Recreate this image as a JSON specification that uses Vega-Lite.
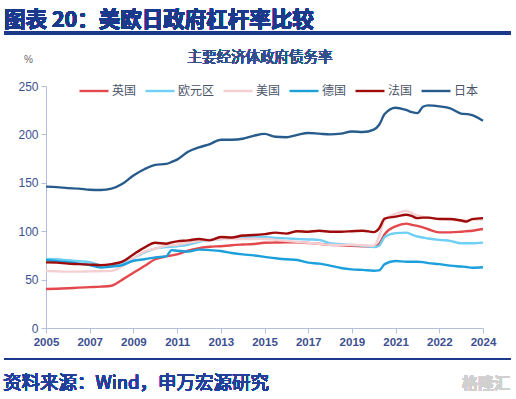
{
  "$schema": "https://vega.github.io/schema/vega-lite/v6.json",
  "autosize": "none",
  "width": 437,
  "height": 242,
  "padding": {"left": 46, "top": 86, "right": 33, "bottom": 71},
  "background": "white",
  "config": {
    "view": {"stroke": null},
    "font": "Noto Sans CJK SC"
  },
  "data": {
    "values": [
      {"t": 0, "英国": 40.3, "欧元区": 71.3, "美国": 58.9, "德国": 70.2, "法国": 67.8, "日本": 146},
      {"t": 2, "英国": 40.5, "欧元区": 71, "美国": 58.5, "德国": 69, "法国": 67.5, "日本": 145.5},
      {"t": 4, "英国": 41, "欧元区": 70, "美国": 58.2, "德国": 68, "法国": 66.5, "日本": 144.5},
      {"t": 6, "英国": 41.7, "欧元区": 69, "美国": 58.2, "德国": 66.5, "法国": 66, "日本": 144},
      {"t": 8, "英国": 42.2, "欧元区": 68, "美国": 58.5, "德国": 65, "法国": 65.5, "日本": 142.8},
      {"t": 10, "英国": 42.7, "欧元区": 65, "美国": 58.7, "德国": 62.5, "法国": 65, "日本": 142.5},
      {"t": 12, "英国": 43.7, "欧元区": 64.5, "美国": 59, "德国": 63.5, "法国": 66, "日本": 144},
      {"t": 14, "英国": 50, "欧元区": 66, "美国": 64, "德国": 65, "法国": 68.5, "日本": 149},
      {"t": 16, "英国": 57, "欧元区": 72, "美国": 72, "德国": 69.5, "法国": 76, "日本": 157.5},
      {"t": 18, "英国": 64, "欧元区": 78, "美国": 79, "德国": 71, "法国": 83, "日本": 164},
      {"t": 20, "英国": 71, "欧元区": 82, "美国": 82, "德国": 73, "法国": 88, "日本": 168.5},
      {"t": 22, "英国": 74, "欧元区": 83.5, "美国": 85, "德国": 74, "法国": 87, "日本": 169.5},
      {"t": 23, "英国": 75, "欧元区": 84, "美国": 85.5, "德国": 80.5, "法国": 88.5, "日本": 171.5},
      {"t": 24, "英国": 76, "欧元区": 84.5, "美国": 86, "德国": 79.8, "法国": 89.5, "日本": 174},
      {"t": 26, "英国": 80, "欧元区": 86, "美国": 88, "德国": 79, "法国": 90.5, "日本": 182},
      {"t": 28, "英国": 82.5, "欧元区": 89, "美国": 90, "德国": 81, "法国": 92, "日本": 186.5},
      {"t": 30, "英国": 84, "欧元区": 91, "美国": 91, "德国": 80.5, "法国": 90.5, "日本": 190},
      {"t": 32, "英国": 84.5, "欧元区": 92, "美国": 92, "德国": 79.5, "法国": 94, "日本": 194.5},
      {"t": 34, "英国": 85.5, "欧元区": 93, "美国": 92, "德国": 77.5, "法国": 93.5, "日本": 194.5},
      {"t": 36, "英国": 86.2, "欧元区": 94, "美国": 92, "德国": 76, "法国": 95.5, "日本": 195.5},
      {"t": 38, "英国": 86.8, "欧元区": 94.5, "美国": 92, "德国": 75, "法国": 96, "日本": 198.5},
      {"t": 40, "英国": 88, "欧元区": 94, "美国": 92, "德国": 73.5, "法国": 97, "日本": 200.5},
      {"t": 42, "英国": 88.3, "欧元区": 93, "美国": 91, "德国": 72, "法国": 98.5, "日本": 197.5},
      {"t": 44, "英国": 88.5, "欧元区": 92.6, "美国": 90, "德国": 71, "法国": 97.5, "日本": 197},
      {"t": 46, "英国": 88.5, "欧元区": 92, "美国": 89, "德国": 70.2, "法国": 100, "日本": 199.5},
      {"t": 48, "英国": 87.8, "欧元区": 91.5, "美国": 88, "德国": 67.5, "法国": 99.5, "日本": 201.5},
      {"t": 50, "英国": 87, "欧元区": 91, "美国": 87, "德国": 66.5, "法国": 100.5, "日本": 200.8},
      {"t": 52, "英国": 86, "欧元区": 87.5, "美国": 86, "德国": 64.5, "法国": 99.5, "日本": 200},
      {"t": 54, "英国": 85.5, "欧元区": 86.5, "美国": 85.7, "德国": 62, "法国": 99.5, "日本": 200.8},
      {"t": 56, "英国": 85, "欧元区": 85.7, "美国": 86, "德国": 60.6, "法国": 100, "日本": 203},
      {"t": 58, "英国": 84.5, "欧元区": 85, "美国": 85.5, "德国": 60, "法国": 100.5, "日本": 202.5},
      {"t": 60, "英国": 84, "欧元区": 83.5, "美国": 85, "德国": 59.2, "法国": 99, "日本": 205},
      {"t": 61, "英国": 87, "欧元区": 85, "美国": 95, "德国": 59.5, "法国": 103, "日本": 210},
      {"t": 62, "英国": 97, "欧元区": 94, "美国": 112, "德国": 66, "法国": 113, "日本": 221},
      {"t": 64, "英国": 105, "欧元区": 98, "美国": 118, "德国": 69.2, "法国": 115, "日本": 227.6},
      {"t": 66, "英国": 107.8, "欧元区": 98.5, "美国": 121, "德国": 68.5, "法国": 117, "日本": 225},
      {"t": 67, "英国": 106.5, "欧元区": 96.5, "美国": 118.5, "德国": 68.5, "法国": 115.5, "日本": 223},
      {"t": 68, "英国": 105.5, "欧元区": 94.5, "美国": 116, "德国": 68.5, "法国": 113.5, "日本": 222},
      {"t": 69, "英国": 104, "欧元区": 93.5, "美国": 115, "德国": 68, "法国": 114, "日本": 228.5},
      {"t": 70, "英国": 102, "欧元区": 92.5, "美国": 114, "德国": 67, "法国": 114, "日本": 230},
      {"t": 72, "英国": 98.8, "欧元区": 91, "美国": 113, "德国": 66, "法国": 112.6, "日本": 229},
      {"t": 74, "英国": 98.8, "欧元区": 90, "美国": 112, "德国": 64.4, "法国": 112.6, "日本": 227},
      {"t": 76, "英国": 99.5, "欧元区": 87.5, "美国": 111, "德国": 63.5, "法国": 111, "日本": 221.5},
      {"t": 77, "英国": 100, "欧元区": 87.5, "美国": 111, "德国": 63, "法国": 110, "日本": 221},
      {"t": 78, "英国": 100.5, "欧元区": 87.5, "美国": 112, "德国": 62.2, "法国": 112.5, "日本": 220},
      {"t": 80, "英国": 102.3, "欧元区": 88.2, "美国": 112, "德国": 62.7, "法国": 113.5, "日本": 214}
    ]
  },
  "layer": [
    {
      "transform": [
        {"fold": ["英国", "欧元区", "美国", "德国", "法国", "日本"], "as": ["s", "v"]}
      ],
      "mark": {"type": "line", "interpolate": "monotone"},
      "encoding": {
        "x": {
          "field": "t",
          "type": "quantitative",
          "scale": {"domain": [0, 80], "nice": false, "zero": false},
          "axis": {
            "title": null,
            "values": [0, 8, 16, 24, 32, 40, 48, 56, 64, 72, 80],
            "labelExpr": "['2005','2007','2009','2011','2013','2015','2017','2019','2021','2022','2024'][round(datum.value/8)]",
            "grid": false,
            "domainColor": "#b4bfe0",
            "tickColor": "#b4bfe0",
            "tickSize": 5,
            "labelColor": "#3d4f8f",
            "labelFont": "Liberation Sans",
            "labelFontSize": 11.5,
            "labelFontWeight": "bold",
            "labelPadding": 3,
            "labelFlush": false
          }
        },
        "y": {
          "field": "v",
          "type": "quantitative",
          "scale": {"domain": [0, 250], "nice": false},
          "axis": {
            "title": "%",
            "titleAngle": 0,
            "titleX": -18,
            "titleY": -24,
            "titleAlign": "center",
            "titleBaseline": "alphabetic",
            "titleFont": "Liberation Sans",
            "titleFontSize": 10,
            "titleFontWeight": "normal",
            "titleColor": "#666666",
            "values": [0, 50, 100, 150, 200, 250],
            "grid": false,
            "domainColor": "#b4bfe0",
            "tickColor": "#b4bfe0",
            "tickSize": 5,
            "labelColor": "#3d4f8f",
            "labelFont": "Liberation Sans",
            "labelFontSize": 12,
            "labelPadding": 3
          }
        },
        "color": {
          "field": "s",
          "type": "nominal",
          "scale": {
            "domain": ["英国", "欧元区", "美国", "德国", "法国", "日本"],
            "range": ["#e2484c", "#6fcff4", "#f6cfd3", "#1ba0dc", "#9e0b0b", "#275b8b"]
          },
          "legend": {
            "title": null,
            "orient": "none",
            "direction": "horizontal",
            "legendX": 32,
            "legendY": -11,
            "symbolType": "stroke",
            "symbolSize": 841,
            "symbolStrokeWidth": 3,
            "labelFontSize": 12,
            "labelFontWeight": "normal",
            "labelColor": "#4a5368",
            "labelOffset": 2,
            "columnPadding": 3,
            "padding": 0
          }
        },
        "strokeWidth": {
          "field": "s",
          "type": "nominal",
          "scale": {
            "domain": ["英国", "欧元区", "美国", "德国", "法国", "日本"],
            "range": [2.4, 2.4, 2.4, 2.4, 3, 3]
          },
          "legend": null
        }
      }
    },
    {
      "mark": {"type": "text", "text": "主要经济体政府债务率", "fontSize": 14.5, "fontWeight": "normal", "color": "#34508c", "align": "center", "baseline": "alphabetic"},
      "encoding": {"x": {"value": 214}, "y": {"value": -24}}
    },
    {
      "mark": {"type": "text", "text": "图表 20：美欧日政府杠杆率比较", "fontSize": 21.5, "fontWeight": "bold", "color": "#1b3a8c", "align": "left", "baseline": "alphabetic"},
      "encoding": {"x": {"value": -42}, "y": {"value": -59}}
    },
    {
      "mark": {"type": "rule", "color": "#1b3a8c", "strokeWidth": 2.5},
      "encoding": {"x": {"value": -42}, "x2": {"value": 465}, "y": {"value": -53}}
    },
    {
      "mark": {"type": "rule", "color": "#1b3a8c", "strokeWidth": 2},
      "encoding": {"x": {"value": -42}, "x2": {"value": 465}, "y": {"value": 273}}
    },
    {
      "mark": {"type": "text", "text": "资料来源：Wind，申万宏源研究", "fontSize": 18.5, "fontWeight": "normal", "color": "#22409a", "align": "left", "baseline": "alphabetic"},
      "encoding": {"x": {"value": -43}, "y": {"value": 303}}
    },
    {
      "mark": {"type": "text", "text": "格隆汇", "fontSize": 16, "fontWeight": "bold", "color": "#d0d0d0", "align": "right", "baseline": "alphabetic"},
      "encoding": {"x": {"value": 464}, "y": {"value": 303}}
    }
  ]
}
